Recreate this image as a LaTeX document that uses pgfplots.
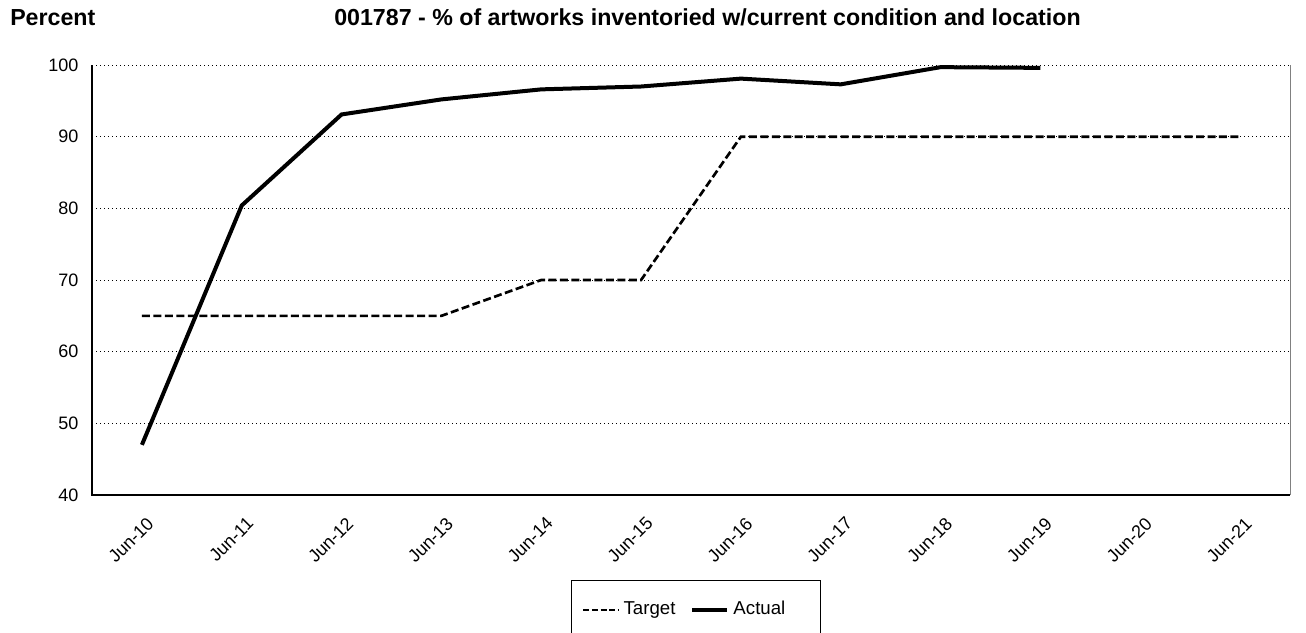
\documentclass[border=0pt]{standalone}
\usepackage{pgfplots}
\pgfplotsset{compat=1.18}
\usepackage{fontspec}
\setmainfont{Liberation Sans}
\begin{document}
\begin{tikzpicture}
\useasboundingbox (0pt,0pt) rectangle (979.5pt,474pt);
\node[anchor=base west, inner sep=0, font=\fontsize{17.4pt}{20pt}\selectfont\bfseries] at (7.5pt,455pt) {Percent};
\node[anchor=base, inner sep=0, font=\fontsize{17.4pt}{20pt}\selectfont\bfseries] at (530.6pt,455pt) {001787 - \% of artworks inventoried w/current condition and location};
\begin{axis}[
  at={(69pt,102.75pt)}, anchor=south west,
  scale only axis, width=898.5pt, height=322.5pt,
  xmin=-0.5, xmax=11.5, ymin=40, ymax=100,
  xtick={0,...,11},
  xticklabels={Jun-10,Jun-11,Jun-12,Jun-13,Jun-14,Jun-15,Jun-16,Jun-17,Jun-18,Jun-19,Jun-20,Jun-21},
  ytick={40,50,...,100},
  tick style={draw=none},
  ticklabel style={font=\fontsize{13.5pt}{16pt}\selectfont},
  /pgf/number format/assume math mode=true,
  xticklabel style={xshift=3pt, yshift=-15.5pt, rotate=45, anchor=north east, inner sep=0pt},
  yticklabel style={anchor=east, inner sep=0pt, xshift=-10pt},
  ymajorgrids,
  major grid style={black, line width=0.6pt, dash pattern=on 0.75pt off 2.25pt},
  axis line style={draw=none},
  clip=false,
  legend columns=2,
  legend style={at={(0.3998,-0.1977)}, anchor=north west, draw=black, line width=0.75pt,
    inner xsep=8pt, inner ysep=13.5pt,
    font=\fontsize{14pt}{16pt}\selectfont,
    /tikz/every even column/.append style={column sep=8pt},
    nodes={inner xsep=3pt, text height=10pt, text depth=3pt}},
  legend image code/.code={\draw[#1] (0pt,0pt) -- (26.5pt,0pt);},
]
\draw[line width=1.5pt, black] (axis description cs:0,1) -- (axis description cs:0,0) -- (axis description cs:1,0);
\draw[line width=0.75pt, gray] (axis description cs:1,0) -- (axis description cs:1,1);
\addplot[black, line width=2pt, dash pattern=on 6pt off 2.6pt,
  legend image post style={line width=1.6pt, dash pattern=on 4.5pt off 2pt}] coordinates {
(0,65) (1,65) (2,65) (3,65) (4,70) (5,70) (6,90) (7,90) (8,90) (9,90) (10,90) (11,90)};
\addlegendentry{Target}
\addplot[black, line width=3pt] coordinates {
(0,47.0) (1,80.4) (2,93.1) (3,95.2) (4,96.6) (5,97.0) (6,98.1) (7,97.3) (8,99.7) (9,99.6)};
\addlegendentry{Actual\hspace*{15pt}}
\end{axis}
\end{tikzpicture}
\end{document}
